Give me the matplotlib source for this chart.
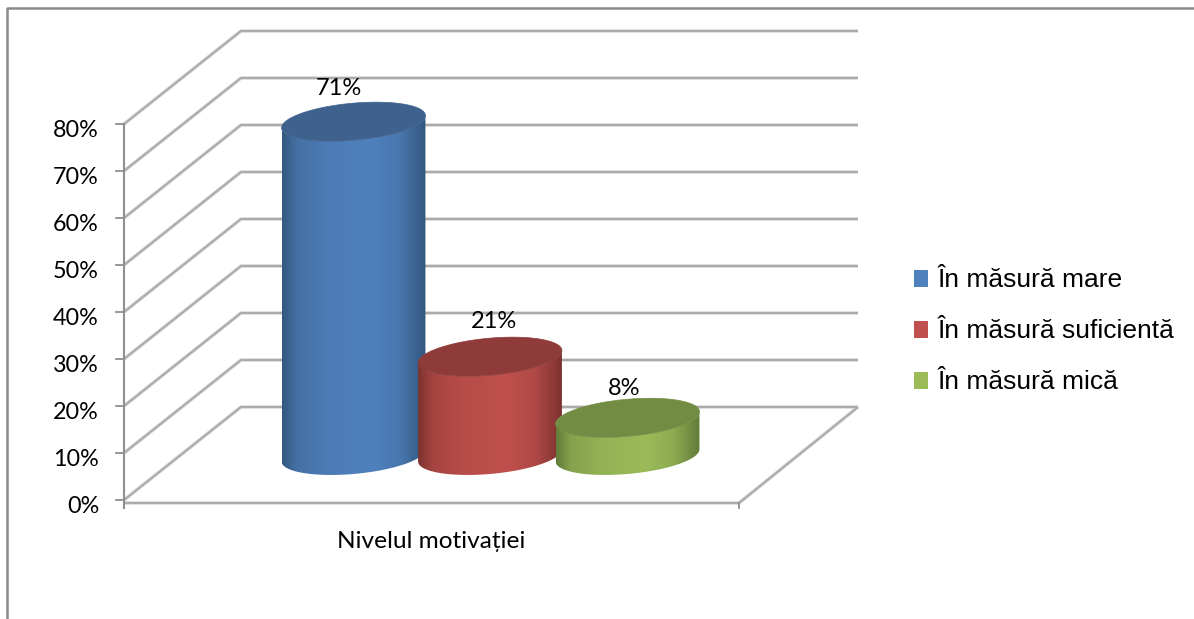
import matplotlib
matplotlib.use("Agg")
import matplotlib.pyplot as plt
import numpy as np
from matplotlib.path import Path
from matplotlib.patches import PathPatch, Rectangle
from matplotlib.colors import LinearSegmentedColormap, to_rgb

# chart data
series = ["În măsură mare", "În măsură suficientă", "În măsură mică"]
values = [71, 21, 8]
value_labels = ["71%", "21%", "8%"]
ticks = [0, 10, 20, 30, 40, 50, 60, 70, 80]
category = "Nivelul motivației"

# colours
body_mid = ["#4f81bd", "#c0504d", "#9bbb59"]
body_edge = ["#33587f", "#7c3230", "#627c39"]
top_col = ["#3e618e", "#8f3b39", "#738c43"]
legend_col = ["#4f81bd", "#c0504d", "#9bbb59"]
grid_col = "#ababab"

# layout, x is in pixels and y is in percent on the back wall
PX = 4.7  # pixels per percent
depth_x = 117
depth_y = 93 / PX
front_l, front_r = 124, 739
back_l, back_r = 241, 858
centers = [353.5, 490, 627.5]
base_y = -10.3
a, b, phi = 72.2, 18.5, np.radians(5.2)
label_dx = [-15, 4, -3]
label_dy = [34.5, 36.8, 31]

fig = plt.figure(figsize=(11.94, 6.19), dpi=100)
ax = fig.add_axes([0, 0, 1, 1])
ax.set_xlim(0, 1194)
ax.set_ylim(-212 / PX, 407 / PX)
ax.axis("off")


def ellipse(cx, cy, t):
    ex = cx + a * np.cos(t) * np.cos(phi) - b * np.sin(t) * np.sin(phi)
    ey = cy + (a * np.cos(t) * np.sin(phi) + b * np.sin(t) * np.cos(phi)) / PX
    return ex, ey


def mix(c1, c2, k):
    return tuple((1 - k) * np.array(to_rgb(c1)) + k * np.array(to_rgb(c2)))


def soft_line(xs, ys, lw=1.5, col=grid_col, z=1):
    # a pale wider stroke under the line gives the soft shadow of the original
    ax.plot(xs, ys, color="#dedede", lw=lw + 1.2, solid_capstyle="butt", zorder=z)
    ax.plot(xs, ys, color=col, lw=lw, solid_capstyle="butt", zorder=z + 0.1)


# outer frame, only top and left are visible
top_frame = 407 / PX - 8 / PX
ax.plot([7, 7, 1194], [-212 / PX, top_frame, top_frame], color="#8a8a8a", lw=1.8, zorder=1)

# walls
for t in ticks:
    soft_line([front_l, back_l, back_r], [t - depth_y, t, t])
soft_line([front_l, front_r, back_r], [-depth_y - 3 / PX, -depth_y - 3 / PX, 0])

# y axis and ticks
ax.plot([front_l, front_l], [80 - depth_y, -depth_y - 8 / PX], color="#8f8f8f", lw=1.5, zorder=2)
for t in ticks:
    ax.plot([116, front_l], [t - depth_y, t - depth_y], color="#8f8f8f", lw=1.3, zorder=2)
    ax.text(99, t - depth_y - 6.5 / PX, f"{t}%", ha="right", va="center", fontsize=16.8,
            family=["Lato", "DejaVu Sans"], color="black")
ax.plot([front_r, front_r], [-depth_y - 3 / PX, -depth_y - 8 / PX], color="#8f8f8f", lw=1.3, zorder=2)
ax.text(431.5, -134 / PX, category, ha="center", va="center", fontsize=17.6,
        family=["Lato", "DejaVu Sans"], color="black")

# cylinders, later ones sit on top of earlier ones
t_right = np.arctan2(-b * np.sin(phi), a * np.cos(phi))
t_left = t_right + np.pi
for i, val in enumerate(values):
    cx = centers[i]
    top_y = base_y + val
    low = np.linspace(t_left, t_left + np.pi, 80)
    bx, by = ellipse(cx, base_y, low)
    tx, ty = ellipse(cx, top_y, low[::-1])
    verts = np.column_stack([np.r_[bx, tx], np.r_[by, ty]])
    body = PathPatch(Path(np.vstack([verts, verts[0]]), closed=True), fc="none", ec="none", zorder=3 + i)
    ax.add_patch(body)
    cmap = LinearSegmentedColormap.from_list("c", [
        (0, body_edge[i]),
        (0.1, mix(body_edge[i], body_mid[i], 0.6)),
        (0.3, mix(body_edge[i], body_mid[i], 0.85)),
        (0.62, body_mid[i]),
        (0.82, mix(body_edge[i], body_mid[i], 0.75)),
        (1, body_edge[i]),
    ])
    grad = np.linspace(0, 1, 256).reshape(1, -1)
    im = ax.imshow(grad, cmap=cmap, aspect="auto", zorder=3 + i,
                   extent=[bx.min(), bx.max(), by.min(), ty.max()])
    im.set_clip_path(body)
    ex, ey = ellipse(cx, top_y, np.linspace(0, 2 * np.pi, 160))
    ax.fill(ex, ey, color=top_col[i], lw=0.5, zorder=3 + i + 0.5)
    ax.text(cx + label_dx[i], top_y + (label_dy[i] - 1.5) / PX, value_labels[i], ha="center", va="center",
            fontsize=17, family=["Lato", "DejaVu Sans"], color="black", zorder=10)

# imshow moves the limits, so put them back
ax.set_xlim(0, 1194)
ax.set_ylim(-212 / PX, 407 / PX)

# legend
for i, name in enumerate(series):
    ly = (407 - (278.5 + 51 * i)) / PX
    ax.add_patch(Rectangle((914, ly - 8.5 / PX), 14, 17 / PX, fc=legend_col[i], ec="none", zorder=5))
    ax.text(938, ly - 1.5 / PX, name, ha="left", va="center", fontsize=19,
            family="Liberation Sans", color="black")

fig.savefig("out.png", dpi=100, facecolor="white")
